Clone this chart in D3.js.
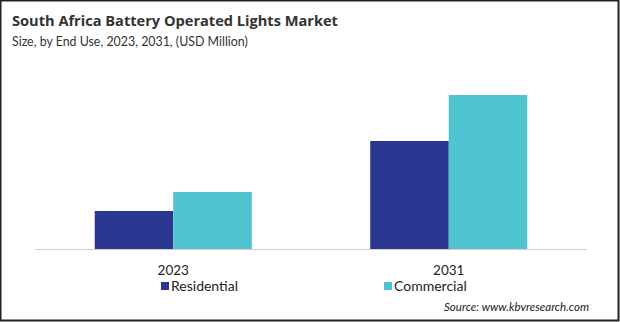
<!doctype html>
<html lang="en">
<head>
    <meta charset="utf-8">
    <title>South Africa Battery Operated Lights Market</title>
    <script src="https://cdn.jsdelivr.net/npm/d3@7"></script>
    <style>
        body { margin: 0; background: #fff; }
    </style>
</head>
<body>
    <script>
        // data (USD Million, estimated)
        var years = ["2023", "2031"];
        var seriesNames = ["Residential", "Commercial"];
        var residential = [19.0, 54.0];
        var commercial = [28.5, 77.0];
        var colors = ["#2a3790", "#4fc3cf"];

        var width = 620, height = 322;
        var baseY = 249;

        var svg = d3.select("body").append("svg")
            .attr("width", width)
            .attr("height", height);

        svg.append("rect")
            .attr("x", 0.5).attr("y", 0.5)
            .attr("width", width - 2).attr("height", height - 2)
            .attr("fill", "#fff")
            .attr("stroke", "#222")
            .attr("stroke-width", 2);

        // title
        svg.append("text")
            .attr("x", 12).attr("y", 26)
            .attr("font-family", "Open Sans")
            .attr("font-weight", "bold")
            .attr("font-size", "14.6px")
            .attr("fill", "#333")
            .text("South Africa Battery Operated Lights Market");

        svg.append("text")
            .attr("x", 12).attr("y", 46)
            .attr("font-family", "Lato")
            .attr("font-size", "12.4px")
            .attr("fill", "#333")
            .text("Size, by End Use, 2023, 2031, (USD Million)");

        var x0 = d3.scaleBand().domain(years).range([35.5, 586.5]).padding(0);
        var x1 = d3.scaleBand().domain(seriesNames)
            .range([x0.bandwidth() * 0.215, x0.bandwidth() * 0.785]);
        var y = d3.scaleLinear().domain([0, 77]).range([baseY, 95]);

        var rows = years.map(function(yr, i) {
            return { year: yr, values: [residential[i], commercial[i]] };
        });

        var groups = svg.selectAll("g.grp")
            .data(rows)
            .enter().append("g")
            .attr("class", "grp")
            .attr("transform", function(d) { return "translate(" + x0(d.year) + ",0)"; });

        groups.selectAll("rect")
            .data(function(d) { return d.values; })
            .enter().append("rect")
            .attr("x", function(d, i) { return x1(seriesNames[i]); })
            .attr("y", function(d) { return y(d); })
            .attr("width", x1.bandwidth())
            .attr("height", function(d) { return baseY - y(d); })
            .attr("fill", function(d, i) { return colors[i]; });

        // baseline
        svg.append("line")
            .attr("x1", 35).attr("x2", 587)
            .attr("y1", baseY + 0.5).attr("y2", baseY + 0.5)
            .attr("stroke", "#d0d0d0");

        // year labels
        svg.selectAll("text.year")
            .data(years)
            .enter().append("text")
            .attr("class", "year")
            .attr("x", function(d) { return x0(d) + x0.bandwidth() / 2; })
            .attr("y", 275)
            .attr("text-anchor", "middle")
            .attr("font-family", "Lato")
            .attr("font-size", "13.5px")
            .attr("fill", "#222")
            .text(function(d) { return d; });

        // legend
        var legendX = [161, 384];
        var leg = svg.selectAll("g.leg")
            .data(seriesNames)
            .enter().append("g")
            .attr("class", "leg")
            .attr("transform", function(d, i) { return "translate(" + legendX[i] + ",282)"; });

        leg.append("rect")
            .attr("width", 8).attr("height", 8)
            .attr("fill", function(d, i) { return colors[i]; });

        leg.append("text")
            .attr("x", 10).attr("y", 9)
            .attr("font-family", "Lato")
            .attr("font-size", "14px")
            .attr("fill", "#222")
            .text(function(d) { return d; });

        svg.append("text")
            .attr("x", 589).attr("y", 311)
            .attr("text-anchor", "end")
            .attr("font-family", "Lato")
            .attr("font-style", "italic")
            .attr("font-size", "11.5px")
            .attr("fill", "#222")
            .text("Source: www.kbvresearch.com");
    </script>
</body>
</html>
